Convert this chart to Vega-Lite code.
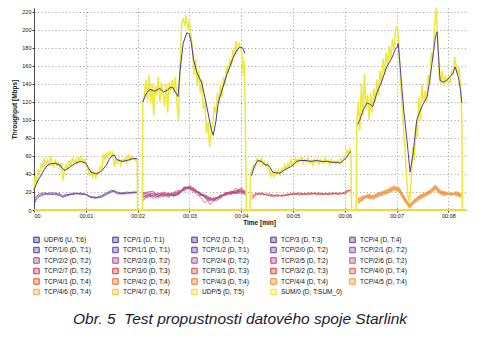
{
"$schema":"https://vega.github.io/schema/vega-lite/v6.json",
"width":432,"height":202,
"autosize":{"type":"none"},
"padding":{"left":34,"top":8,"right":19,"bottom":134},
"background":"white",
"title":{"text":"Obr. 5\u00a0 Test propustnosti datového spoje Starlink","orient":"bottom","anchor":"middle","font":"Liberation Sans","fontSize":15.5,"fontStyle":"italic","fontWeight":"normal","color":"#1c1c30","offset":15,"dx":-10},
"config":{"view":{"stroke":null},
 "axis":{"labelFont":"Liberation Sans","titleFont":"Liberation Sans","labelFontSize":5.5,"titleFontSize":6.5,"titleFontWeight":"bold","labelColor":"#111","titleColor":"#111","gridColor":"#888","gridDash":[1,2.5],"gridWidth":0.8,"tickSize":2,"tickColor":"#333","domainColor":"#222","domainWidth":0.8,"labelPadding":1}},
"datasets":{
"sum":[{"t":0.00,"v":22},{"t":0.02,"v":38},{"t":0.05,"v":30},{"t":0.08,"v":44},{"t":0.11,"v":40},{"t":0.14,"v":52},{"t":0.17,"v":47},{"t":0.20,"v":58},{"t":0.23,"v":50},{"t":0.26,"v":56},{"t":0.29,"v":49},{"t":0.32,"v":60},{"t":0.35,"v":52},{"t":0.38,"v":48},{"t":0.41,"v":55},{"t":0.44,"v":50},{"t":0.47,"v":53},{"t":0.50,"v":47},{"t":0.53,"v":52},{"t":0.56,"v":33},{"t":0.59,"v":45},{"t":0.62,"v":50},{"t":0.65,"v":44},{"t":0.68,"v":55},{"t":0.71,"v":48},{"t":0.74,"v":58},{"t":0.77,"v":53},{"t":0.80,"v":56},{"t":0.83,"v":51},{"t":0.86,"v":58},{"t":0.89,"v":54},{"t":0.92,"v":59},{"t":0.95,"v":53},{"t":0.98,"v":56},{"t":1.01,"v":50},{"t":1.04,"v":46},{"t":1.07,"v":38},{"t":1.10,"v":44},{"t":1.13,"v":37},{"t":1.16,"v":43},{"t":1.19,"v":35},{"t":1.22,"v":42},{"t":1.25,"v":40},{"t":1.28,"v":48},{"t":1.31,"v":45},{"t":1.34,"v":62},{"t":1.37,"v":55},{"t":1.40,"v":64},{"t":1.43,"v":58},{"t":1.46,"v":66},{"t":1.49,"v":60},{"t":1.52,"v":64},{"t":1.55,"v":48},{"t":1.58,"v":56},{"t":1.61,"v":52},{"t":1.64,"v":57},{"t":1.67,"v":50},{"t":1.70,"v":56},{"t":1.73,"v":54},{"t":1.76,"v":58},{"t":1.79,"v":53},{"t":1.82,"v":62},{"t":1.85,"v":55},{"t":1.88,"v":60},{"t":1.91,"v":56},{"t":1.94,"v":58},{"t":1.97,"v":55},{"t":1.99,"v":56},{"t":2.00,"v":0},{"t":2.09,"v":0},
{"t":2.10,"v":118},{"t":2.13,"v":128},{"t":2.16,"v":145},{"t":2.19,"v":122},{"t":2.22,"v":150},{"t":2.25,"v":118},{"t":2.28,"v":140},{"t":2.31,"v":105},{"t":2.34,"v":138},{"t":2.37,"v":128},{"t":2.40,"v":148},{"t":2.43,"v":120},{"t":2.46,"v":142},{"t":2.49,"v":130},{"t":2.52,"v":115},{"t":2.55,"v":140},{"t":2.58,"v":108},{"t":2.61,"v":142},{"t":2.64,"v":132},{"t":2.67,"v":145},{"t":2.70,"v":130},{"t":2.73,"v":148},{"t":2.76,"v":118},{"t":2.79,"v":100},{"t":2.82,"v":160},{"t":2.85,"v":208},{"t":2.88,"v":212},{"t":2.91,"v":205},{"t":2.94,"v":216},{"t":2.97,"v":200},{"t":3.00,"v":210},{"t":3.03,"v":195},{"t":3.06,"v":178},{"t":3.09,"v":150},{"t":3.12,"v":168},{"t":3.15,"v":138},{"t":3.18,"v":155},{"t":3.21,"v":130},{"t":3.24,"v":145},{"t":3.27,"v":112},{"t":3.30,"v":120},{"t":3.33,"v":85},{"t":3.36,"v":98},{"t":3.39,"v":70},{"t":3.42,"v":88},{"t":3.45,"v":95},{"t":3.48,"v":115},{"t":3.51,"v":108},{"t":3.54,"v":130},{"t":3.57,"v":118},{"t":3.60,"v":140},{"t":3.63,"v":125},{"t":3.66,"v":148},{"t":3.69,"v":138},{"t":3.72,"v":160},{"t":3.75,"v":152},{"t":3.78,"v":168},{"t":3.81,"v":160},{"t":3.84,"v":178},{"t":3.87,"v":170},{"t":3.90,"v":188},{"t":3.93,"v":176},{"t":3.96,"v":185},{"t":3.99,"v":180},{"t":4.02,"v":172},{"t":4.04,"v":150},{"t":4.06,"v":165},{"t":4.08,"v":105},{"t":4.10,"v":0},{"t":4.17,"v":0},
{"t":4.18,"v":40},{"t":4.21,"v":45},{"t":4.24,"v":50},{"t":4.27,"v":47},{"t":4.30,"v":57},{"t":4.33,"v":55},{"t":4.36,"v":52},{"t":4.39,"v":58},{"t":4.42,"v":50},{"t":4.45,"v":54},{"t":4.48,"v":48},{"t":4.51,"v":52},{"t":4.54,"v":45},{"t":4.57,"v":38},{"t":4.60,"v":42},{"t":4.63,"v":36},{"t":4.66,"v":44},{"t":4.69,"v":40},{"t":4.72,"v":45},{"t":4.75,"v":38},{"t":4.78,"v":46},{"t":4.81,"v":43},{"t":4.84,"v":50},{"t":4.87,"v":45},{"t":4.90,"v":52},{"t":4.93,"v":48},{"t":4.96,"v":55},{"t":4.99,"v":50},{"t":5.02,"v":53},{"t":5.05,"v":58},{"t":5.08,"v":52},{"t":5.11,"v":57},{"t":5.14,"v":54},{"t":5.17,"v":59},{"t":5.20,"v":52},{"t":5.23,"v":56},{"t":5.26,"v":53},{"t":5.29,"v":58},{"t":5.32,"v":52},{"t":5.35,"v":55},{"t":5.38,"v":50},{"t":5.41,"v":56},{"t":5.44,"v":53},{"t":5.47,"v":57},{"t":5.50,"v":51},{"t":5.53,"v":56},{"t":5.56,"v":54},{"t":5.59,"v":52},{"t":5.62,"v":57},{"t":5.65,"v":53},{"t":5.68,"v":55},{"t":5.71,"v":50},{"t":5.74,"v":56},{"t":5.77,"v":52},{"t":5.80,"v":54},{"t":5.83,"v":51},{"t":5.86,"v":55},{"t":5.89,"v":52},{"t":5.92,"v":57},{"t":5.95,"v":53},{"t":5.98,"v":58},{"t":6.01,"v":60},{"t":6.04,"v":66},{"t":6.07,"v":64},{"t":6.10,"v":68},{"t":6.12,"v":62},{"t":6.13,"v":0},{"t":6.22,"v":0},
{"t":6.23,"v":95},{"t":6.26,"v":120},{"t":6.29,"v":88},{"t":6.32,"v":140},{"t":6.35,"v":105},{"t":6.38,"v":152},{"t":6.41,"v":112},{"t":6.44,"v":128},{"t":6.47,"v":100},{"t":6.50,"v":130},{"t":6.53,"v":108},{"t":6.56,"v":135},{"t":6.59,"v":120},{"t":6.62,"v":145},{"t":6.65,"v":128},{"t":6.68,"v":155},{"t":6.71,"v":140},{"t":6.74,"v":168},{"t":6.77,"v":150},{"t":6.80,"v":175},{"t":6.83,"v":160},{"t":6.86,"v":182},{"t":6.89,"v":168},{"t":6.92,"v":190},{"t":6.95,"v":178},{"t":6.98,"v":200},{"t":7.01,"v":205},{"t":7.04,"v":188},{"t":7.07,"v":150},{"t":7.10,"v":120},{"t":7.13,"v":95},{"t":7.16,"v":70},{"t":7.19,"v":40},{"t":7.22,"v":15},{"t":7.25,"v":8},{"t":7.28,"v":30},{"t":7.31,"v":70},{"t":7.34,"v":55},{"t":7.37,"v":95},{"t":7.40,"v":80},{"t":7.43,"v":125},{"t":7.46,"v":100},{"t":7.49,"v":140},{"t":7.52,"v":118},{"t":7.55,"v":132},{"t":7.58,"v":120},{"t":7.61,"v":150},{"t":7.64,"v":140},{"t":7.67,"v":175},{"t":7.70,"v":165},{"t":7.73,"v":200},{"t":7.76,"v":225},{"t":7.79,"v":195},{"t":7.82,"v":150},{"t":7.85,"v":140},{"t":7.88,"v":155},{"t":7.91,"v":138},{"t":7.94,"v":150},{"t":7.97,"v":142},{"t":8.00,"v":148},{"t":8.03,"v":140},{"t":8.06,"v":155},{"t":8.09,"v":150},{"t":8.12,"v":170},{"t":8.15,"v":160},{"t":8.18,"v":150},{"t":8.21,"v":158},{"t":8.24,"v":130},{"t":8.26,"v":100},{"t":8.27,"v":0}],
"a1":[{"t":0.00,"v":22},{"t":0.05,"v":30},{"t":0.10,"v":35},{"t":0.15,"v":40},{"t":0.20,"v":45},{"t":0.25,"v":49},{"t":0.30,"v":51},{"t":0.40,"v":52},{"t":0.50,"v":50},{"t":0.55,"v":46},{"t":0.60,"v":44},{"t":0.70,"v":48},{"t":0.80,"v":52},{"t":0.90,"v":54},{"t":1.00,"v":52},{"t":1.05,"v":47},{"t":1.10,"v":42},{"t":1.20,"v":40},{"t":1.30,"v":43},{"t":1.40,"v":50},{"t":1.45,"v":56},{"t":1.50,"v":60},{"t":1.55,"v":61},{"t":1.60,"v":56},{"t":1.70,"v":54},{"t":1.80,"v":55},{"t":1.90,"v":57},{"t":1.99,"v":57}],
"a2":[{"t":2.10,"v":120},{"t":2.17,"v":130},{"t":2.24,"v":134},{"t":2.33,"v":132},{"t":2.43,"v":135},{"t":2.50,"v":131},{"t":2.57,"v":133},{"t":2.63,"v":136},{"t":2.68,"v":136},{"t":2.74,"v":130},{"t":2.78,"v":126},{"t":2.82,"v":155},{"t":2.88,"v":185},{"t":2.95,"v":197},{"t":3.00,"v":195},{"t":3.04,"v":185},{"t":3.08,"v":167},{"t":3.15,"v":152},{"t":3.24,"v":141},{"t":3.30,"v":125},{"t":3.36,"v":108},{"t":3.42,"v":90},{"t":3.46,"v":83},{"t":3.51,"v":98},{"t":3.56,"v":120},{"t":3.65,"v":137},{"t":3.72,"v":150},{"t":3.78,"v":159},{"t":3.85,"v":170},{"t":3.92,"v":178},{"t":3.98,"v":181},{"t":4.03,"v":180},{"t":4.07,"v":174}],
"a3":[{"t":4.20,"v":38},{"t":4.25,"v":48},{"t":4.32,"v":55},{"t":4.40,"v":54},{"t":4.46,"v":50},{"t":4.52,"v":50},{"t":4.56,"v":47},{"t":4.61,"v":42},{"t":4.68,"v":41},{"t":4.75,"v":41},{"t":4.82,"v":44},{"t":4.88,"v":46},{"t":4.95,"v":48},{"t":5.00,"v":50},{"t":5.07,"v":54},{"t":5.14,"v":55},{"t":5.25,"v":55},{"t":5.35,"v":54},{"t":5.45,"v":55},{"t":5.55,"v":54},{"t":5.66,"v":54},{"t":5.75,"v":53},{"t":5.85,"v":53},{"t":5.91,"v":52},{"t":5.97,"v":55},{"t":6.04,"v":59},{"t":6.08,"v":63},{"t":6.12,"v":65}],
"a4":[{"t":6.25,"v":95},{"t":6.29,"v":100},{"t":6.36,"v":112},{"t":6.43,"v":119},{"t":6.50,"v":117},{"t":6.54,"v":115},{"t":6.62,"v":130},{"t":6.72,"v":144},{"t":6.81,"v":159},{"t":6.91,"v":169},{"t":6.97,"v":178},{"t":7.01,"v":181},{"t":7.03,"v":185},{"t":7.07,"v":159},{"t":7.11,"v":130},{"t":7.14,"v":110},{"t":7.20,"v":78},{"t":7.26,"v":42},{"t":7.32,"v":63},{"t":7.39,"v":100},{"t":7.44,"v":108},{"t":7.49,"v":115},{"t":7.59,"v":126},{"t":7.64,"v":144},{"t":7.70,"v":170},{"t":7.75,"v":192},{"t":7.78,"v":198},{"t":7.80,"v":181},{"t":7.84,"v":144},{"t":7.90,"v":142},{"t":7.97,"v":144},{"t":8.03,"v":148},{"t":8.09,"v":152},{"t":8.13,"v":159},{"t":8.19,"v":148},{"t":8.23,"v":135},{"t":8.26,"v":119}],
"p1":[{"t":0.00,"TCP/1/0 (D, T:1)":6,"TCP/1/1 (D, T:1)":9,"TCP/1/2 (D, T:1)":12},{"t":0.05,"TCP/1/0 (D, T:1)":12,"TCP/1/1 (D, T:1)":14,"TCP/1/2 (D, T:1)":15},{"t":0.10,"TCP/1/0 (D, T:1)":15,"TCP/1/1 (D, T:1)":16,"TCP/1/2 (D, T:1)":18},{"t":0.20,"TCP/1/0 (D, T:1)":17,"TCP/1/1 (D, T:1)":18,"TCP/1/2 (D, T:1)":19},{"t":0.30,"TCP/1/0 (D, T:1)":18,"TCP/1/1 (D, T:1)":19,"TCP/1/2 (D, T:1)":17},{"t":0.40,"TCP/1/0 (D, T:1)":17,"TCP/1/1 (D, T:1)":19,"TCP/1/2 (D, T:1)":18},{"t":0.50,"TCP/1/0 (D, T:1)":16,"TCP/1/1 (D, T:1)":17,"TCP/1/2 (D, T:1)":18},{"t":0.55,"TCP/1/0 (D, T:1)":14,"TCP/1/1 (D, T:1)":15,"TCP/1/2 (D, T:1)":16},{"t":0.60,"TCP/1/0 (D, T:1)":15,"TCP/1/1 (D, T:1)":16,"TCP/1/2 (D, T:1)":17},{"t":0.70,"TCP/1/0 (D, T:1)":17,"TCP/1/1 (D, T:1)":18,"TCP/1/2 (D, T:1)":17},{"t":0.80,"TCP/1/0 (D, T:1)":18,"TCP/1/1 (D, T:1)":19,"TCP/1/2 (D, T:1)":18},{"t":0.90,"TCP/1/0 (D, T:1)":18,"TCP/1/1 (D, T:1)":17,"TCP/1/2 (D, T:1)":19},{"t":1.00,"TCP/1/0 (D, T:1)":17,"TCP/1/1 (D, T:1)":18,"TCP/1/2 (D, T:1)":17},{"t":1.05,"TCP/1/0 (D, T:1)":15,"TCP/1/1 (D, T:1)":16,"TCP/1/2 (D, T:1)":16},{"t":1.10,"TCP/1/0 (D, T:1)":14,"TCP/1/1 (D, T:1)":14,"TCP/1/2 (D, T:1)":15},{"t":1.20,"TCP/1/0 (D, T:1)":13,"TCP/1/1 (D, T:1)":14,"TCP/1/2 (D, T:1)":14},{"t":1.30,"TCP/1/0 (D, T:1)":15,"TCP/1/1 (D, T:1)":14,"TCP/1/2 (D, T:1)":16},{"t":1.40,"TCP/1/0 (D, T:1)":18,"TCP/1/1 (D, T:1)":17,"TCP/1/2 (D, T:1)":19},{"t":1.50,"TCP/1/0 (D, T:1)":21,"TCP/1/1 (D, T:1)":20,"TCP/1/2 (D, T:1)":22},{"t":1.55,"TCP/1/0 (D, T:1)":20,"TCP/1/1 (D, T:1)":22,"TCP/1/2 (D, T:1)":21},{"t":1.60,"TCP/1/0 (D, T:1)":18,"TCP/1/1 (D, T:1)":19,"TCP/1/2 (D, T:1)":20},{"t":1.70,"TCP/1/0 (D, T:1)":18,"TCP/1/1 (D, T:1)":18,"TCP/1/2 (D, T:1)":19},{"t":1.80,"TCP/1/0 (D, T:1)":19,"TCP/1/1 (D, T:1)":18,"TCP/1/2 (D, T:1)":20},{"t":1.90,"TCP/1/0 (D, T:1)":19,"TCP/1/1 (D, T:1)":20,"TCP/1/2 (D, T:1)":19},{"t":1.99,"TCP/1/0 (D, T:1)":19,"TCP/1/1 (D, T:1)":20,"TCP/1/2 (D, T:1)":20}],
"p2":[
{"t":2.10,"TCP/2/0 (D, T:2)":14,"TCP/2/1 (D, T:2)":18,"TCP/2/2 (D, T:2)":15,"TCP/2/3 (D, T:2)":17,"TCP/2/4 (D, T:2)":12,"TCP/2/5 (D, T:2)":19,"TCP/2/6 (D, T:2)":16,"TCP/2/7 (D, T:2)":10},
{"t":2.20,"TCP/2/0 (D, T:2)":17,"TCP/2/1 (D, T:2)":19,"TCP/2/2 (D, T:2)":16,"TCP/2/3 (D, T:2)":18,"TCP/2/4 (D, T:2)":15,"TCP/2/5 (D, T:2)":20,"TCP/2/6 (D, T:2)":14,"TCP/2/7 (D, T:2)":17},
{"t":2.30,"TCP/2/0 (D, T:2)":16,"TCP/2/1 (D, T:2)":18,"TCP/2/2 (D, T:2)":19,"TCP/2/3 (D, T:2)":15,"TCP/2/4 (D, T:2)":17,"TCP/2/5 (D, T:2)":21,"TCP/2/6 (D, T:2)":16,"TCP/2/7 (D, T:2)":13},
{"t":2.40,"TCP/2/0 (D, T:2)":15,"TCP/2/1 (D, T:2)":17,"TCP/2/2 (D, T:2)":16,"TCP/2/3 (D, T:2)":18,"TCP/2/4 (D, T:2)":14,"TCP/2/5 (D, T:2)":16,"TCP/2/6 (D, T:2)":19,"TCP/2/7 (D, T:2)":15},
{"t":2.50,"TCP/2/0 (D, T:2)":18,"TCP/2/1 (D, T:2)":16,"TCP/2/2 (D, T:2)":17,"TCP/2/3 (D, T:2)":19,"TCP/2/4 (D, T:2)":15,"TCP/2/5 (D, T:2)":18,"TCP/2/6 (D, T:2)":16,"TCP/2/7 (D, T:2)":20},
{"t":2.60,"TCP/2/0 (D, T:2)":16,"TCP/2/1 (D, T:2)":18,"TCP/2/2 (D, T:2)":17,"TCP/2/3 (D, T:2)":15,"TCP/2/4 (D, T:2)":19,"TCP/2/5 (D, T:2)":17,"TCP/2/6 (D, T:2)":14,"TCP/2/7 (D, T:2)":18},
{"t":2.70,"TCP/2/0 (D, T:2)":17,"TCP/2/1 (D, T:2)":19,"TCP/2/2 (D, T:2)":16,"TCP/2/3 (D, T:2)":18,"TCP/2/4 (D, T:2)":16,"TCP/2/5 (D, T:2)":15,"TCP/2/6 (D, T:2)":20,"TCP/2/7 (D, T:2)":17},
{"t":2.80,"TCP/2/0 (D, T:2)":19,"TCP/2/1 (D, T:2)":20,"TCP/2/2 (D, T:2)":18,"TCP/2/3 (D, T:2)":21,"TCP/2/4 (D, T:2)":17,"TCP/2/5 (D, T:2)":19,"TCP/2/6 (D, T:2)":22,"TCP/2/7 (D, T:2)":18},
{"t":2.90,"TCP/2/0 (D, T:2)":23,"TCP/2/1 (D, T:2)":25,"TCP/2/2 (D, T:2)":24,"TCP/2/3 (D, T:2)":22,"TCP/2/4 (D, T:2)":26,"TCP/2/5 (D, T:2)":24,"TCP/2/6 (D, T:2)":21,"TCP/2/7 (D, T:2)":25},
{"t":3.00,"TCP/2/0 (D, T:2)":25,"TCP/2/1 (D, T:2)":26,"TCP/2/2 (D, T:2)":24,"TCP/2/3 (D, T:2)":27,"TCP/2/4 (D, T:2)":23,"TCP/2/5 (D, T:2)":25,"TCP/2/6 (D, T:2)":26,"TCP/2/7 (D, T:2)":24},
{"t":3.10,"TCP/2/0 (D, T:2)":21,"TCP/2/1 (D, T:2)":23,"TCP/2/2 (D, T:2)":22,"TCP/2/3 (D, T:2)":24,"TCP/2/4 (D, T:2)":20,"TCP/2/5 (D, T:2)":22,"TCP/2/6 (D, T:2)":19,"TCP/2/7 (D, T:2)":23},
{"t":3.20,"TCP/2/0 (D, T:2)":18,"TCP/2/1 (D, T:2)":17,"TCP/2/2 (D, T:2)":19,"TCP/2/3 (D, T:2)":16,"TCP/2/4 (D, T:2)":20,"TCP/2/5 (D, T:2)":18,"TCP/2/6 (D, T:2)":15,"TCP/2/7 (D, T:2)":19},
{"t":3.30,"TCP/2/0 (D, T:2)":15,"TCP/2/1 (D, T:2)":16,"TCP/2/2 (D, T:2)":14,"TCP/2/3 (D, T:2)":17,"TCP/2/4 (D, T:2)":13,"TCP/2/5 (D, T:2)":15,"TCP/2/6 (D, T:2)":8,"TCP/2/7 (D, T:2)":16},
{"t":3.40,"TCP/2/0 (D, T:2)":12,"TCP/2/1 (D, T:2)":13,"TCP/2/2 (D, T:2)":11,"TCP/2/3 (D, T:2)":14,"TCP/2/4 (D, T:2)":10,"TCP/2/5 (D, T:2)":12,"TCP/2/6 (D, T:2)":13,"TCP/2/7 (D, T:2)":6},
{"t":3.50,"TCP/2/0 (D, T:2)":13,"TCP/2/1 (D, T:2)":12,"TCP/2/2 (D, T:2)":14,"TCP/2/3 (D, T:2)":11,"TCP/2/4 (D, T:2)":12,"TCP/2/5 (D, T:2)":10,"TCP/2/6 (D, T:2)":13,"TCP/2/7 (D, T:2)":12},
{"t":3.60,"TCP/2/0 (D, T:2)":15,"TCP/2/1 (D, T:2)":16,"TCP/2/2 (D, T:2)":14,"TCP/2/3 (D, T:2)":17,"TCP/2/4 (D, T:2)":15,"TCP/2/5 (D, T:2)":13,"TCP/2/6 (D, T:2)":16,"TCP/2/7 (D, T:2)":14},
{"t":3.70,"TCP/2/0 (D, T:2)":18,"TCP/2/1 (D, T:2)":17,"TCP/2/2 (D, T:2)":19,"TCP/2/3 (D, T:2)":16,"TCP/2/4 (D, T:2)":18,"TCP/2/5 (D, T:2)":20,"TCP/2/6 (D, T:2)":17,"TCP/2/7 (D, T:2)":18},
{"t":3.80,"TCP/2/0 (D, T:2)":19,"TCP/2/1 (D, T:2)":20,"TCP/2/2 (D, T:2)":18,"TCP/2/3 (D, T:2)":19,"TCP/2/4 (D, T:2)":21,"TCP/2/5 (D, T:2)":17,"TCP/2/6 (D, T:2)":19,"TCP/2/7 (D, T:2)":20},
{"t":3.90,"TCP/2/0 (D, T:2)":20,"TCP/2/1 (D, T:2)":21,"TCP/2/2 (D, T:2)":19,"TCP/2/3 (D, T:2)":22,"TCP/2/4 (D, T:2)":18,"TCP/2/5 (D, T:2)":20,"TCP/2/6 (D, T:2)":24,"TCP/2/7 (D, T:2)":19},
{"t":4.00,"TCP/2/0 (D, T:2)":21,"TCP/2/1 (D, T:2)":22,"TCP/2/2 (D, T:2)":20,"TCP/2/3 (D, T:2)":23,"TCP/2/4 (D, T:2)":19,"TCP/2/5 (D, T:2)":21,"TCP/2/6 (D, T:2)":20,"TCP/2/7 (D, T:2)":25},
{"t":4.08,"TCP/2/0 (D, T:2)":19,"TCP/2/1 (D, T:2)":20,"TCP/2/2 (D, T:2)":18,"TCP/2/3 (D, T:2)":21,"TCP/2/4 (D, T:2)":17,"TCP/2/5 (D, T:2)":19,"TCP/2/6 (D, T:2)":20,"TCP/2/7 (D, T:2)":18}],
"p3":[{"t":4.20,"TCP/3/0 (D, T:3)":12,"TCP/3/1 (D, T:3)":16,"TCP/3/2 (D, T:3)":14},{"t":4.30,"TCP/3/0 (D, T:3)":17,"TCP/3/1 (D, T:3)":19,"TCP/3/2 (D, T:3)":18},{"t":4.40,"TCP/3/0 (D, T:3)":18,"TCP/3/1 (D, T:3)":17,"TCP/3/2 (D, T:3)":19},{"t":4.50,"TCP/3/0 (D, T:3)":17,"TCP/3/1 (D, T:3)":18,"TCP/3/2 (D, T:3)":16},{"t":4.60,"TCP/3/0 (D, T:3)":15,"TCP/3/1 (D, T:3)":17,"TCP/3/2 (D, T:3)":16},{"t":4.70,"TCP/3/0 (D, T:3)":16,"TCP/3/1 (D, T:3)":15,"TCP/3/2 (D, T:3)":17},{"t":4.80,"TCP/3/0 (D, T:3)":16,"TCP/3/1 (D, T:3)":17,"TCP/3/2 (D, T:3)":15},{"t":4.90,"TCP/3/0 (D, T:3)":17,"TCP/3/1 (D, T:3)":16,"TCP/3/2 (D, T:3)":18},{"t":5.00,"TCP/3/0 (D, T:3)":18,"TCP/3/1 (D, T:3)":19,"TCP/3/2 (D, T:3)":17},{"t":5.10,"TCP/3/0 (D, T:3)":17,"TCP/3/1 (D, T:3)":18,"TCP/3/2 (D, T:3)":19},{"t":5.20,"TCP/3/0 (D, T:3)":18,"TCP/3/1 (D, T:3)":17,"TCP/3/2 (D, T:3)":18},{"t":5.30,"TCP/3/0 (D, T:3)":19,"TCP/3/1 (D, T:3)":18,"TCP/3/2 (D, T:3)":17},{"t":5.40,"TCP/3/0 (D, T:3)":18,"TCP/3/1 (D, T:3)":19,"TCP/3/2 (D, T:3)":18},{"t":5.50,"TCP/3/0 (D, T:3)":17,"TCP/3/1 (D, T:3)":18,"TCP/3/2 (D, T:3)":19},{"t":5.60,"TCP/3/0 (D, T:3)":18,"TCP/3/1 (D, T:3)":17,"TCP/3/2 (D, T:3)":18},{"t":5.70,"TCP/3/0 (D, T:3)":18,"TCP/3/1 (D, T:3)":19,"TCP/3/2 (D, T:3)":17},{"t":5.80,"TCP/3/0 (D, T:3)":19,"TCP/3/1 (D, T:3)":18,"TCP/3/2 (D, T:3)":18},{"t":5.90,"TCP/3/0 (D, T:3)":18,"TCP/3/1 (D, T:3)":17,"TCP/3/2 (D, T:3)":19},{"t":6.00,"TCP/3/0 (D, T:3)":19,"TCP/3/1 (D, T:3)":20,"TCP/3/2 (D, T:3)":18},{"t":6.05,"TCP/3/0 (D, T:3)":21,"TCP/3/1 (D, T:3)":22,"TCP/3/2 (D, T:3)":20},{"t":6.12,"TCP/3/0 (D, T:3)":22,"TCP/3/1 (D, T:3)":21,"TCP/3/2 (D, T:3)":23}],
"p4":[
{"t":6.25,"TCP/4/0 (D, T:4)":8,"TCP/4/1 (D, T:4)":12,"TCP/4/2 (D, T:4)":10,"TCP/4/3 (D, T:4)":6,"TCP/4/4 (D, T:4)":11,"TCP/4/5 (D, T:4)":9,"TCP/4/6 (D, T:4)":13,"TCP/4/7 (D, T:4)":10},
{"t":6.35,"TCP/4/0 (D, T:4)":13,"TCP/4/1 (D, T:4)":15,"TCP/4/2 (D, T:4)":14,"TCP/4/3 (D, T:4)":12,"TCP/4/4 (D, T:4)":16,"TCP/4/5 (D, T:4)":11,"TCP/4/6 (D, T:4)":14,"TCP/4/7 (D, T:4)":15},
{"t":6.45,"TCP/4/0 (D, T:4)":15,"TCP/4/1 (D, T:4)":16,"TCP/4/2 (D, T:4)":14,"TCP/4/3 (D, T:4)":17,"TCP/4/4 (D, T:4)":13,"TCP/4/5 (D, T:4)":15,"TCP/4/6 (D, T:4)":18,"TCP/4/7 (D, T:4)":14},
{"t":6.55,"TCP/4/0 (D, T:4)":14,"TCP/4/1 (D, T:4)":15,"TCP/4/2 (D, T:4)":13,"TCP/4/3 (D, T:4)":16,"TCP/4/4 (D, T:4)":12,"TCP/4/5 (D, T:4)":14,"TCP/4/6 (D, T:4)":15,"TCP/4/7 (D, T:4)":13},
{"t":6.65,"TCP/4/0 (D, T:4)":17,"TCP/4/1 (D, T:4)":18,"TCP/4/2 (D, T:4)":16,"TCP/4/3 (D, T:4)":19,"TCP/4/4 (D, T:4)":15,"TCP/4/5 (D, T:4)":17,"TCP/4/6 (D, T:4)":20,"TCP/4/7 (D, T:4)":16},
{"t":6.75,"TCP/4/0 (D, T:4)":19,"TCP/4/1 (D, T:4)":20,"TCP/4/2 (D, T:4)":18,"TCP/4/3 (D, T:4)":21,"TCP/4/4 (D, T:4)":17,"TCP/4/5 (D, T:4)":19,"TCP/4/6 (D, T:4)":18,"TCP/4/7 (D, T:4)":22},
{"t":6.85,"TCP/4/0 (D, T:4)":21,"TCP/4/1 (D, T:4)":22,"TCP/4/2 (D, T:4)":20,"TCP/4/3 (D, T:4)":23,"TCP/4/4 (D, T:4)":19,"TCP/4/5 (D, T:4)":21,"TCP/4/6 (D, T:4)":24,"TCP/4/7 (D, T:4)":20},
{"t":6.95,"TCP/4/0 (D, T:4)":24,"TCP/4/1 (D, T:4)":25,"TCP/4/2 (D, T:4)":23,"TCP/4/3 (D, T:4)":27,"TCP/4/4 (D, T:4)":22,"TCP/4/5 (D, T:4)":24,"TCP/4/6 (D, T:4)":26,"TCP/4/7 (D, T:4)":23},
{"t":7.05,"TCP/4/0 (D, T:4)":22,"TCP/4/1 (D, T:4)":24,"TCP/4/2 (D, T:4)":21,"TCP/4/3 (D, T:4)":23,"TCP/4/4 (D, T:4)":20,"TCP/4/5 (D, T:4)":22,"TCP/4/6 (D, T:4)":25,"TCP/4/7 (D, T:4)":21},
{"t":7.15,"TCP/4/0 (D, T:4)":12,"TCP/4/1 (D, T:4)":14,"TCP/4/2 (D, T:4)":11,"TCP/4/3 (D, T:4)":13,"TCP/4/4 (D, T:4)":10,"TCP/4/5 (D, T:4)":12,"TCP/4/6 (D, T:4)":15,"TCP/4/7 (D, T:4)":11},
{"t":7.25,"TCP/4/0 (D, T:4)":4,"TCP/4/1 (D, T:4)":5,"TCP/4/2 (D, T:4)":3,"TCP/4/3 (D, T:4)":6,"TCP/4/4 (D, T:4)":2,"TCP/4/5 (D, T:4)":4,"TCP/4/6 (D, T:4)":5,"TCP/4/7 (D, T:4)":3},
{"t":7.35,"TCP/4/0 (D, T:4)":10,"TCP/4/1 (D, T:4)":11,"TCP/4/2 (D, T:4)":9,"TCP/4/3 (D, T:4)":12,"TCP/4/4 (D, T:4)":8,"TCP/4/5 (D, T:4)":10,"TCP/4/6 (D, T:4)":11,"TCP/4/7 (D, T:4)":9},
{"t":7.45,"TCP/4/0 (D, T:4)":14,"TCP/4/1 (D, T:4)":15,"TCP/4/2 (D, T:4)":13,"TCP/4/3 (D, T:4)":16,"TCP/4/4 (D, T:4)":12,"TCP/4/5 (D, T:4)":14,"TCP/4/6 (D, T:4)":17,"TCP/4/7 (D, T:4)":13},
{"t":7.55,"TCP/4/0 (D, T:4)":17,"TCP/4/1 (D, T:4)":18,"TCP/4/2 (D, T:4)":16,"TCP/4/3 (D, T:4)":19,"TCP/4/4 (D, T:4)":15,"TCP/4/5 (D, T:4)":17,"TCP/4/6 (D, T:4)":18,"TCP/4/7 (D, T:4)":16},
{"t":7.65,"TCP/4/0 (D, T:4)":20,"TCP/4/1 (D, T:4)":21,"TCP/4/2 (D, T:4)":19,"TCP/4/3 (D, T:4)":22,"TCP/4/4 (D, T:4)":18,"TCP/4/5 (D, T:4)":20,"TCP/4/6 (D, T:4)":23,"TCP/4/7 (D, T:4)":19},
{"t":7.75,"TCP/4/0 (D, T:4)":25,"TCP/4/1 (D, T:4)":26,"TCP/4/2 (D, T:4)":24,"TCP/4/3 (D, T:4)":27,"TCP/4/4 (D, T:4)":23,"TCP/4/5 (D, T:4)":25,"TCP/4/6 (D, T:4)":28,"TCP/4/7 (D, T:4)":24},
{"t":7.85,"TCP/4/0 (D, T:4)":19,"TCP/4/1 (D, T:4)":20,"TCP/4/2 (D, T:4)":18,"TCP/4/3 (D, T:4)":21,"TCP/4/4 (D, T:4)":17,"TCP/4/5 (D, T:4)":19,"TCP/4/6 (D, T:4)":22,"TCP/4/7 (D, T:4)":18},
{"t":7.95,"TCP/4/0 (D, T:4)":18,"TCP/4/1 (D, T:4)":19,"TCP/4/2 (D, T:4)":17,"TCP/4/3 (D, T:4)":20,"TCP/4/4 (D, T:4)":16,"TCP/4/5 (D, T:4)":18,"TCP/4/6 (D, T:4)":19,"TCP/4/7 (D, T:4)":17},
{"t":8.05,"TCP/4/0 (D, T:4)":18,"TCP/4/1 (D, T:4)":17,"TCP/4/2 (D, T:4)":19,"TCP/4/3 (D, T:4)":16,"TCP/4/4 (D, T:4)":20,"TCP/4/5 (D, T:4)":18,"TCP/4/6 (D, T:4)":17,"TCP/4/7 (D, T:4)":19},
{"t":8.15,"TCP/4/0 (D, T:4)":18,"TCP/4/1 (D, T:4)":19,"TCP/4/2 (D, T:4)":17,"TCP/4/3 (D, T:4)":20,"TCP/4/4 (D, T:4)":16,"TCP/4/5 (D, T:4)":18,"TCP/4/6 (D, T:4)":21,"TCP/4/7 (D, T:4)":17},
{"t":8.25,"TCP/4/0 (D, T:4)":16,"TCP/4/1 (D, T:4)":17,"TCP/4/2 (D, T:4)":15,"TCP/4/3 (D, T:4)":18,"TCP/4/4 (D, T:4)":14,"TCP/4/5 (D, T:4)":16,"TCP/4/6 (D, T:4)":17,"TCP/4/7 (D, T:4)":15}],
"zero":[{"t":0,"v":0},{"t":8.34,"v":0}]
},
"encoding":{
 "x":{"field":"t","type":"quantitative","scale":{"domain":[0,8.34],"nice":false,"zero":false},
  "axis":{"title":"Time [min]","values":[0,1,2,3,4,5,6,7,8],"labelExpr":"datum.value == 0 ? '00' : '00:0' + datum.value","grid":true,"titlePadding":1,"titleX":225}},
 "y":{"field":"v","type":"quantitative","scale":{"domain":[0,224.4],"nice":false},
  "axis":{"title":"Throughput [Mbps]","values":[0,20,40,60,80,100,120,140,160,180,200,220],"grid":true,"titlePadding":4}}
},
"layer":[
 {"data":{"name":"p1"},"transform":[{"fold":["TCP/1/0 (D, T:1)","TCP/1/1 (D, T:1)","TCP/1/2 (D, T:1)"],"as":["k","v"]}],
  "mark":{"type":"line","strokeWidth":0.7},
  "encoding":{"color":{"field":"k","type":"nominal",
   "scale":{"domain":["UDP/6 (U, T:6)","TCP/1 (D, T:1)","TCP/2 (D, T:2)","TCP/3 (D, T:3)","TCP/4 (D, T:4)","TCP/1/0 (D, T:1)","TCP/1/1 (D, T:1)","TCP/1/2 (D, T:1)","TCP/2/0 (D, T:2)","TCP/2/1 (D, T:2)","TCP/2/2 (D, T:2)","TCP/2/3 (D, T:2)","TCP/2/4 (D, T:2)","TCP/2/5 (D, T:2)","TCP/2/6 (D, T:2)","TCP/2/7 (D, T:2)","TCP/3/0 (D, T:3)","TCP/3/1 (D, T:3)","TCP/3/2 (D, T:3)","TCP/4/0 (D, T:4)","TCP/4/1 (D, T:4)","TCP/4/2 (D, T:4)","TCP/4/3 (D, T:4)","TCP/4/4 (D, T:4)","TCP/4/5 (D, T:4)","TCP/4/6 (D, T:4)","TCP/4/7 (D, T:4)","UDP/5 (D, T:5)","SUM/0 (D, T:SUM_0)"],
    "range":["#3b3486","#423a8c","#47398f","#4a3890","#5b3f98","#5f3a9c","#6b3ca0","#6d3a9a","#7a3b9e","#8a4aa6","#9b4c9e","#a94894","#b44d92","#c03a86","#c9547c","#cf3a5d","#d63a4c","#dc4a43","#e0392f","#e4553a","#e85a28","#ec6a2c","#ef7a2e","#f28a2a","#f49a35","#f5ac3e","#f6c03e","#f4d83a","#eee838"]},
   "legend":{"title":null,"orient":"none","legendX":-1,"legendY":228,"columns":5,"direction":"horizontal","gridAlign":"all","symbolType":"square","symbolSize":30,"symbolStrokeWidth":1,"labelFont":"Liberation Sans","labelFontSize":6.5,"labelColor":"#111","labelOffset":4,"rowPadding":-0.5,"columnPadding":4,"padding":0,"labelLimit":200,
    "encode":{"symbols":{"update":{"fill":{"scale":"color","field":"value"},"fillOpacity":{"value":0.35},"stroke":{"scale":"color","field":"value"},"strokeWidth":{"value":1}}}}}}}},
 {"data":{"name":"p2"},"transform":[{"fold":["TCP/2/0 (D, T:2)","TCP/2/1 (D, T:2)","TCP/2/2 (D, T:2)","TCP/2/3 (D, T:2)","TCP/2/4 (D, T:2)","TCP/2/5 (D, T:2)","TCP/2/6 (D, T:2)","TCP/2/7 (D, T:2)"],"as":["k","v"]}],
  "mark":{"type":"line","strokeWidth":0.7},"encoding":{"color":{"field":"k","type":"nominal"}}},
 {"data":{"name":"p3"},"transform":[{"fold":["TCP/3/0 (D, T:3)","TCP/3/1 (D, T:3)","TCP/3/2 (D, T:3)"],"as":["k","v"]}],
  "mark":{"type":"line","strokeWidth":0.7},"encoding":{"color":{"field":"k","type":"nominal"}}},
 {"data":{"name":"p4"},"transform":[{"fold":["TCP/4/0 (D, T:4)","TCP/4/1 (D, T:4)","TCP/4/2 (D, T:4)","TCP/4/3 (D, T:4)","TCP/4/4 (D, T:4)","TCP/4/5 (D, T:4)","TCP/4/6 (D, T:4)","TCP/4/7 (D, T:4)"],"as":["k","v"]}],
  "mark":{"type":"line","strokeWidth":0.7},"encoding":{"color":{"field":"k","type":"nominal"}}},
 {"data":{"name":"zero"},"mark":{"type":"line","strokeWidth":2},"encoding":{"color":{"datum":"UDP/5 (D, T:5)","type":"nominal"}}},
 {"data":{"name":"sum"},"mark":{"type":"line","strokeWidth":1.5},"encoding":{"color":{"datum":"SUM/0 (D, T:SUM_0)","type":"nominal"}}},
 {"data":{"name":"a1"},"mark":{"type":"line","strokeWidth":1},"encoding":{"color":{"datum":"TCP/1 (D, T:1)","type":"nominal"}}},
 {"data":{"name":"a2"},"mark":{"type":"line","strokeWidth":1},"encoding":{"color":{"datum":"TCP/2 (D, T:2)","type":"nominal"}}},
 {"data":{"name":"a3"},"mark":{"type":"line","strokeWidth":1},"encoding":{"color":{"datum":"TCP/3 (D, T:3)","type":"nominal"}}},
 {"data":{"name":"a4"},"mark":{"type":"line","strokeWidth":1},"encoding":{"color":{"datum":"TCP/4 (D, T:4)","type":"nominal"}}}
]
}
